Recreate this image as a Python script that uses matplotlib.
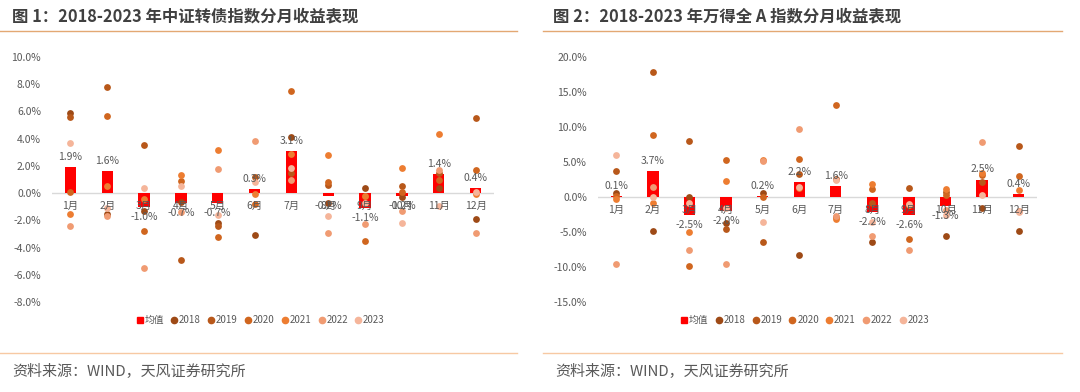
import numpy as np
import matplotlib
matplotlib.use("Agg")
from matplotlib import pyplot as plt
from matplotlib.lines import Line2D
from matplotlib.ticker import FuncFormatter

plt.rcParams['font.family'] = ['Noto Sans CJK SC', 'DejaVu Sans']

months = ["%d月" % i for i in range(1, 13)]
years = ["2018", "2019", "2020", "2021", "2022", "2023"]
year_colors = ["#9E4A16", "#B8581A", "#D0661F", "#ED7D31", "#F09B72", "#F5B59A"]

# 中证转债 monthly returns (%), one list per year
cb_2018 = [5.9, -1.5, -1.3, -0.65, -2.2, -3.1, 4.1, -0.75, 0.35, -0.25, 0.4, -1.9]
cb_2019 = [5.6, 7.8, 3.5, -4.95, -2.4, 1.2, 1.5, 0.6, -0.2, 0.5, 1.5, 5.55]
cb_2020 = [0.1, 5.7, -2.8, 0.9, -3.25, -0.8, 7.5, 0.85, -3.5, 0.1, 1.0, 1.7]
cb_2021 = [-1.5, 0.5, -0.45, 1.3, 3.2, -0.05, 2.9, 2.8, -0.2, 1.85, 4.35, -0.05]
cb_2022 = [-2.4, -1.7, -5.5, -1.4, 1.8, 3.8, 1.0, -2.9, -2.3, -1.35, 1.7, -2.9]
cb_2023 = [3.7, -1.1, 0.4, 0.55, -1.6, 0.8, 1.85, -1.65, -0.75, -2.2, -0.95, 0.1]
cb_mean = [1.9, 1.6, -1.0, -0.7, -0.7, 0.3, 3.1, -0.2, -1.1, -0.2, 1.4, 0.4]

# 万得全A monthly returns (%)
wa_2018 = [0.55, -4.9, 0.0, -3.7, 0.55, -8.3, 2.6, -6.4, -1.2, -5.5, -1.55, -4.85]
wa_2019 = [3.7, 17.9, 8.0, -4.5, -6.4, 3.35, -2.9, -0.85, 1.35, 0.65, 2.1, 7.35]
wa_2020 = [0.1, 8.9, -9.85, 5.25, -0.05, 5.4, 13.1, 1.1, -6.0, 0.25, 3.1, 3.05]
wa_2021 = [-0.3, -0.9, -4.95, 2.25, 5.3, 1.3, -3.15, 1.9, -1.15, 1.1, 3.5, 1.05]
wa_2022 = [-9.5, 1.4, -7.6, -9.5, 5.15, 9.7, -2.75, -5.6, -7.6, -1.8, 7.8, -2.05]
wa_2023 = [6.0, 0.0, -0.85, -1.5, -3.5, 1.5, 2.5, -3.5, -1.0, -2.5, 0.35, -2.15]
wa_mean = [0.1, 3.7, -2.5, -2.0, 0.2, 2.2, 1.6, -2.2, -2.6, -1.3, 2.5, 0.4]

cb_series = [cb_2018, cb_2019, cb_2020, cb_2021, cb_2022, cb_2023]
wa_series = [wa_2018, wa_2019, wa_2020, wa_2021, wa_2022, wa_2023]

GRAY = "#595959"
fig = plt.figure(figsize=(10.8, 3.92), dpi=100)


def draw_panel(ax, series, means, ylim, step):
    x = np.arange(1, 13)
    ax.bar(x, means, width=0.31, color="#FF0000", zorder=2)
    for vals, c in zip(series, year_colors):
        ax.scatter(x, vals, s=24, color=c, linewidths=0, zorder=3)
    ax.axhline(0, color="#D9D9D9", lw=1, zorder=1)
    for xi, m in zip(x, means):
        off = 10 if m >= 0 else -10
        ax.annotate("%.1f%%" % m, (xi, m), xytext=(0, off), textcoords="offset pixels",
                    ha="center", va="center", fontsize=7.5, color=GRAY, zorder=4)
        ax.annotate(months[xi - 1], (xi, 0), xytext=(0, -13), textcoords="offset pixels",
                    ha="center", va="center", fontsize=7.5, color=GRAY, zorder=4)
    ax.set_xlim(0.5, 12.5)
    ax.set_ylim(*ylim)
    ax.set_yticks(np.arange(ylim[0], ylim[1] + step / 2, step))
    ax.yaxis.set_major_formatter(FuncFormatter(lambda v, p: "%.1f%%" % v))
    ax.tick_params(axis="y", length=0, labelsize=7.5, labelcolor=GRAY, pad=8)
    ax.set_xticks([])
    for s in ax.spines.values():
        s.set_visible(False)
    handles = [Line2D([], [], marker="s", color="#FF0000", ls="", markersize=4)]
    handles += [Line2D([], [], marker="o", color=c, ls="", markersize=4.5) for c in year_colors]
    ax.legend(handles, ["均值"] + years, loc="upper center", bbox_to_anchor=(0.47, -0.03),
              ncol=7, frameon=False, fontsize=7, labelcolor=GRAY, handletextpad=0.0,
              columnspacing=0.55, handlelength=1.0, borderaxespad=0.2)


ax1 = fig.add_axes([52 / 1080, 1 - 302 / 392, 442 / 1080, 245 / 392])
draw_panel(ax1, cb_series, cb_mean, (-8, 10), 2)
ax2 = fig.add_axes([598 / 1080, 1 - 302 / 392, 439 / 1080, 245 / 392])
draw_panel(ax2, wa_series, wa_mean, (-15, 20), 5)

# titles, rules and sources
fig.text(12 / 1080, 1 - 16 / 392, "图 1：2018-2023 年中证转债指数分月收益表现", fontsize=11.8,
         fontweight="bold", color="#404040", va="center")
fig.text(553 / 1080, 1 - 16 / 392, "图 2：2018-2023 年万得全 A 指数分月收益表现", fontsize=11.8,
         fontweight="bold", color="#404040", va="center")
for x0, x1 in [(0, 517), (543, 1062)]:
    fig.add_artist(Line2D([x0 / 1080, x1 / 1080], [1 - 31 / 392] * 2, color="#E3A873", lw=1))
    fig.add_artist(Line2D([x0 / 1080, x1 / 1080], [1 - 353 / 392] * 2, color="#F7C9A3", lw=1))
fig.text(12 / 1080, 1 - 372 / 392, "资料来源：WIND，天风证券研究所", fontsize=10.8, color=GRAY, va="center")
fig.text(555 / 1080, 1 - 372 / 392, "资料来源：WIND，天风证券研究所", fontsize=10.8, color=GRAY, va="center")

fig.savefig("out.png", dpi=100)
